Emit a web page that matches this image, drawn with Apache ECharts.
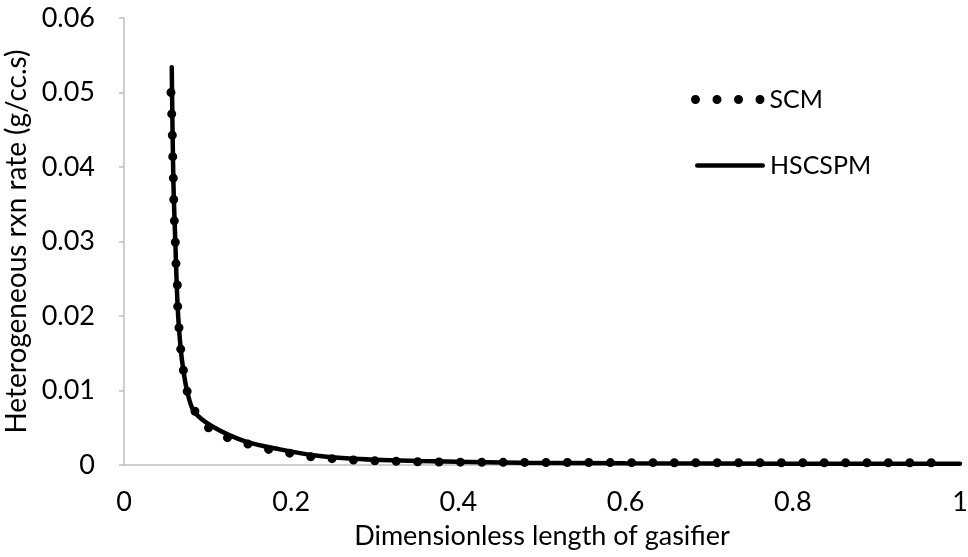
<!DOCTYPE html>
<html>
<head>
<meta charset="utf-8">
<script src="https://cdn.jsdelivr.net/npm/echarts@6/dist/echarts.min.js"></script>
<style>html,body{margin:0;padding:0;background:#fff}#c{width:968px;height:557px}</style>
</head>
<body>
<div id="c"></div>
<script>
const xTicks = ['0', '0.2', '0.4', '0.6', '0.8', '1'];
const yTicks = ['0', '0.01', '0.02', '0.03', '0.04', '0.05', '0.06'];

const scmX = [0.0562, 0.0571, 0.0578, 0.0583, 0.0590, 0.0595, 0.0602, 0.0614, 0.0622, 0.0638, 0.0642, 0.0658, 0.0678, 0.0709, 0.0757, 0.0849, 0.1008, 0.1228, 0.1487, 0.1726, 0.1977, 0.2225, 0.2484, 0.2743, 0.2994, 0.3250, 0.3501, 0.40, 0.50, 0.60, 0.70, 0.80, 0.90, 0.99];
const scmY = [0.0500, 0.0471, 0.0443, 0.0414, 0.0385, 0.0357, 0.0328, 0.0299, 0.0270, 0.0242, 0.0213, 0.0184, 0.0156, 0.0128, 0.0098, 0.0072, 0.0050, 0.0037, 0.0028, 0.0021, 0.0016, 0.0011, 0.00085, 0.00067, 0.00058, 0.0005, 0.00044, 0.00038, 0.00034, 0.00032, 0.0003, 0.0003, 0.0003, 0.0003];

const hscX = [0.0571, 0.0590, 0.0614, 0.0642, 0.0678, 0.0709, 0.0757, 0.0837, 0.1068, 0.1468, 0.1866, 0.2264, 0.2743, 0.3541, 0.4737, 0.60, 0.80, 1.00];
const hscY = [0.0534, 0.0385, 0.0299, 0.0212, 0.0156, 0.0128, 0.0098, 0.0072, 0.0051, 0.0031, 0.0021, 0.0013, 0.00085, 0.00054, 0.00031, 0.00022, 0.00018, 0.00016];

const pairs = (xs, ys) => xs.map((x, i) => [x, ys[i]]);
const FONT = 'Lato';
const FS = 27;

function dot(cx) {
  return 'M' + (cx - 4.5) + ',4.5a4.5,4.5 0 1,0 9,0a4.5,4.5 0 1,0 -9,0Z';
}
const dotsIcon = 'path://' + [4.5, 26, 47.5, 69].map(dot).join(' ');
const lineIcon = 'path://M2.25,0H67.75A2.25,2.25 0 0,1 67.75,4.5H2.25A2.25,2.25 0 0,1 2.25,0Z';

const legendText = { fontFamily: FONT, fontSize: 25, color: '#000' };

const chart = echarts.init(document.getElementById('c'));
chart.setOption({
  animation: false,
  backgroundColor: '#fff',
  grid: { left: 124, right: 8, top: 18, bottom: 92, containLabel: false, outerBoundsMode: 'none' },
  legend: [
    {
      left: 686, top: 82,
      itemWidth: 73.5, itemHeight: 9,
      textStyle: legendText,
      itemStyle: { color: '#000', borderWidth: 0 },
      data: [{ name: 'SCM', icon: dotsIcon }]
    },
    {
      left: 690, top: 148,
      itemWidth: 70, itemHeight: 4.5,
      textStyle: legendText,
      itemStyle: { color: '#000', borderWidth: 0 },
      data: [{ name: 'HSCSPM', icon: lineIcon }]
    }
  ],
  xAxis: {
    type: 'value', min: 0, max: 1, interval: 0.2,
    name: 'Dimensionless length of gasifier',
    nameLocation: 'middle', nameGap: 58,
    nameTextStyle: { fontFamily: FONT, fontSize: FS, color: '#000' },
    axisLine: { show: true, lineStyle: { color: '#bfbfbf', width: 1.5 } },
    axisTick: { show: false },
    splitLine: { show: false },
    axisLabel: { fontFamily: FONT, fontSize: FS, color: '#000', margin: 24,
      formatter: v => xTicks[Math.round(v / 0.2)] }
  },
  yAxis: {
    type: 'value', min: 0, max: 0.06, interval: 0.01,
    name: 'Heterogeneous rxn rate (g/cc.s)',
    nameLocation: 'middle', nameGap: 79, nameRotate: 90,
    nameTextStyle: { fontFamily: FONT, fontSize: 28, color: '#000' },
    axisLine: { show: true, lineStyle: { color: '#bfbfbf', width: 1.5 } },
    axisTick: { show: true, length: 5, lineStyle: { color: '#bfbfbf', width: 1.5 } },
    splitLine: { show: false },
    axisLabel: { fontFamily: FONT, fontSize: FS, color: '#000', margin: 29,
      formatter: v => yTicks[Math.round(v / 0.01)] }
  },
  series: [
    {
      name: 'SCM', type: 'line', data: pairs(scmX, scmY),
      symbol: 'none', smooth: false,
      lineStyle: { color: '#000', width: 9, type: [0, 21.4], cap: 'round' },
      itemStyle: { color: '#000' }
    },
    {
      name: 'HSCSPM', type: 'line', data: pairs(hscX, hscY),
      symbol: 'none', smooth: 0.3,
      lineStyle: { color: '#000', width: 4.5, cap: 'round' },
      itemStyle: { color: '#000' }
    }
  ]
});
</script>
</body>
</html>
